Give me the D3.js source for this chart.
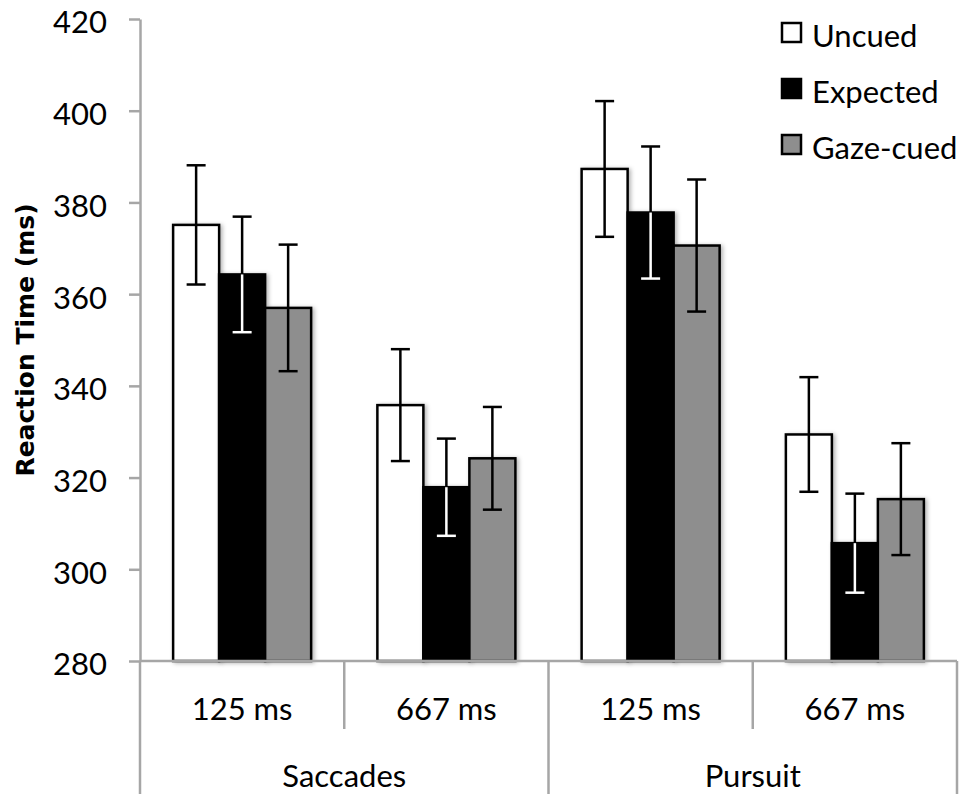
<!DOCTYPE html>
<html>
<head>
<meta charset="utf-8">
<script src="https://cdn.jsdelivr.net/npm/d3@7"></script>
<style>
  body { margin: 0; background: #fff; }
</style>
</head>
<body>
<script>
var subCats = ["125 ms", "667 ms", "125 ms", "667 ms"];
var groups = ["Saccades", "Pursuit"];
var series = ["Uncued", "Expected", "Gaze-cued"];
var colors = ["#ffffff", "#000000", "#8e8e8e"];

var uncued = [375.1, 335.8, 387.3, 329.4];
var expected = [364.3, 317.9, 377.8, 305.7];
var gazeCued = [357.0, 324.2, 370.6, 315.3];
var uncuedErr = [13.0, 12.2, 14.8, 12.5];
var expectedErr = [12.6, 10.6, 14.4, 10.8];
var gazeErr = [13.8, 11.2, 14.4, 12.2];

var yTicks = [280, 300, 320, 340, 360, 380, 400, 420];

var values = [uncued, expected, gazeCued];
var errs = [uncuedErr, expectedErr, gazeErr];

var w = 962, h = 794;
var plotLeft = 140, plotRight = 957, plotTop = 19, plotBottom = 661;
var axisGray = "#a6a6a6";
var fs = 31;
var font = "Lato, 'Open Sans', sans-serif";

var svg = d3.select("body").append("svg")
  .attr("width", w)
  .attr("height", h)
  .style("font-family", font);

var defs = svg.append("defs");
var f = defs.append("filter").attr("id", "shadow")
  .attr("x", "-20%").attr("y", "-20%").attr("width", "140%").attr("height", "140%");
f.append("feDropShadow")
  .attr("dx", 2).attr("dy", 1).attr("stdDeviation", 2)
  .attr("flood-color", "#000").attr("flood-opacity", 0.3);

var yScale = d3.scaleLinear().domain([280, 420]).range([plotBottom, plotTop]);
var x0 = d3.scaleBand().domain(d3.range(subCats.length)).range([plotLeft, plotRight]).padding(0);
var x1 = d3.scaleBand().domain(d3.range(series.length)).range([0, x0.bandwidth()])
  .paddingInner(0).paddingOuter(0.72);

// rows of data
var rows = [];
subCats.forEach(function(c, i) {
  series.forEach(function(s, j) {
    rows.push({ cat: i, s: j, v: values[j][i], e: errs[j][i] });
  });
});

// bars
svg.append("g").selectAll("rect")
  .data(rows)
  .enter().append("rect")
  .attr("x", function(d) { return x0(d.cat) + x1(d.s); })
  .attr("y", function(d) { return yScale(d.v); })
  .attr("width", x1.bandwidth())
  .attr("height", function(d) { return yScale(280) - yScale(d.v); })
  .attr("fill", function(d) { return colors[d.s]; })
  .attr("stroke", "#000")
  .attr("stroke-width", 2.5)
  .attr("filter", "url(#shadow)");

// error bars (white where they sit over the black bar)
var eb = svg.append("g").selectAll("g")
  .data(rows)
  .enter().append("g")
  .attr("transform", function(d) { return "translate(" + (x0(d.cat) + x1(d.s) + x1.bandwidth() / 2) + ",0)"; });

var cap = 9.5;
eb.append("line")
  .attr("y1", function(d) { return yScale(d.v + d.e); })
  .attr("y2", function(d) { return yScale(d.v); })
  .attr("stroke", "#000").attr("stroke-width", 2.5);
eb.append("line")
  .attr("x1", -cap).attr("x2", cap)
  .attr("y1", function(d) { return yScale(d.v + d.e); })
  .attr("y2", function(d) { return yScale(d.v + d.e); })
  .attr("stroke", "#000").attr("stroke-width", 2.5);
eb.append("line")
  .attr("y1", function(d) { return yScale(d.v); })
  .attr("y2", function(d) { return yScale(d.v - d.e); })
  .attr("stroke", function(d) { return d.s == 1 ? "#fff" : "#000"; })
  .attr("stroke-width", 2.5);
eb.append("line")
  .attr("x1", -cap).attr("x2", cap)
  .attr("y1", function(d) { return yScale(d.v - d.e); })
  .attr("y2", function(d) { return yScale(d.v - d.e); })
  .attr("stroke", function(d) { return d.s == 1 ? "#fff" : "#000"; })
  .attr("stroke-width", 2.5);

// y axis
var yAxis = d3.axisLeft(yScale).tickValues(yTicks).tickSize(11).tickSizeOuter(0).tickPadding(22);
var ga = svg.append("g")
  .attr("transform", "translate(" + plotLeft + ",0)")
  .call(yAxis);
ga.attr("font-family", null).attr("font-size", null);
ga.select(".domain").attr("stroke", axisGray).attr("stroke-width", 2.5);
ga.selectAll(".tick line").attr("stroke", axisGray).attr("stroke-width", 2.5);
ga.selectAll(".tick text")
  .attr("x", -33)
  .attr("dy", "0.45em")
  .attr("text-anchor", "end")
  .style("font-size", fs + "px")
  .attr("fill", "#000");

svg.append("text")
  .attr("transform", "translate(34," + ((plotTop + plotBottom) / 2) + ") rotate(-90)")
  .attr("text-anchor", "middle")
  .style("font-size", "25px")
  .style("font-family", "'DejaVu Sans', sans-serif")
  .style("font-weight", "bold")
  .text("Reaction Time (ms)");

// category axis
var cat = svg.append("g").attr("stroke", axisGray).attr("stroke-width", 2.5);
cat.append("line")
  .attr("x1", plotLeft).attr("x2", plotRight)
  .attr("y1", plotBottom).attr("y2", plotBottom);
d3.range(subCats.length + 1).forEach(function(i) {
  var x = i < subCats.length ? x0(i) : x0(subCats.length - 1) + x0.bandwidth();
  cat.append("line")
    .attr("x1", x).attr("x2", x)
    .attr("y1", plotBottom)
    .attr("y2", i % 2 == 0 ? h : 729);
});

svg.append("g").selectAll("text")
  .data(subCats)
  .enter().append("text")
  .attr("x", function(d, i) { return x0(i) + x0.bandwidth() / 2; })
  .attr("y", 720)
  .attr("text-anchor", "middle")
  .style("font-size", fs + "px")
  .text(function(d) { return d; });

svg.append("g").selectAll("text")
  .data(groups)
  .enter().append("text")
  .attr("x", function(d, i) { return x0(i * 2) + x0.bandwidth(); })
  .attr("y", 787)
  .attr("text-anchor", "middle")
  .style("font-size", fs + "px")
  .text(function(d) { return d; });

// legend
var legend = svg.append("g").selectAll("g")
  .data(series)
  .enter().append("g")
  .attr("transform", function(d, i) { return "translate(782," + (23 + i * 56) + ")"; });
legend.append("rect")
  .attr("width", 19).attr("height", 19)
  .attr("fill", function(d, i) { return colors[i]; })
  .attr("stroke", "#000").attr("stroke-width", 2.5);
legend.append("text")
  .attr("x", 30).attr("y", 24)
  .style("font-size", fs + "px")
  .text(function(d) { return d; });
</script>
</body>
</html>
